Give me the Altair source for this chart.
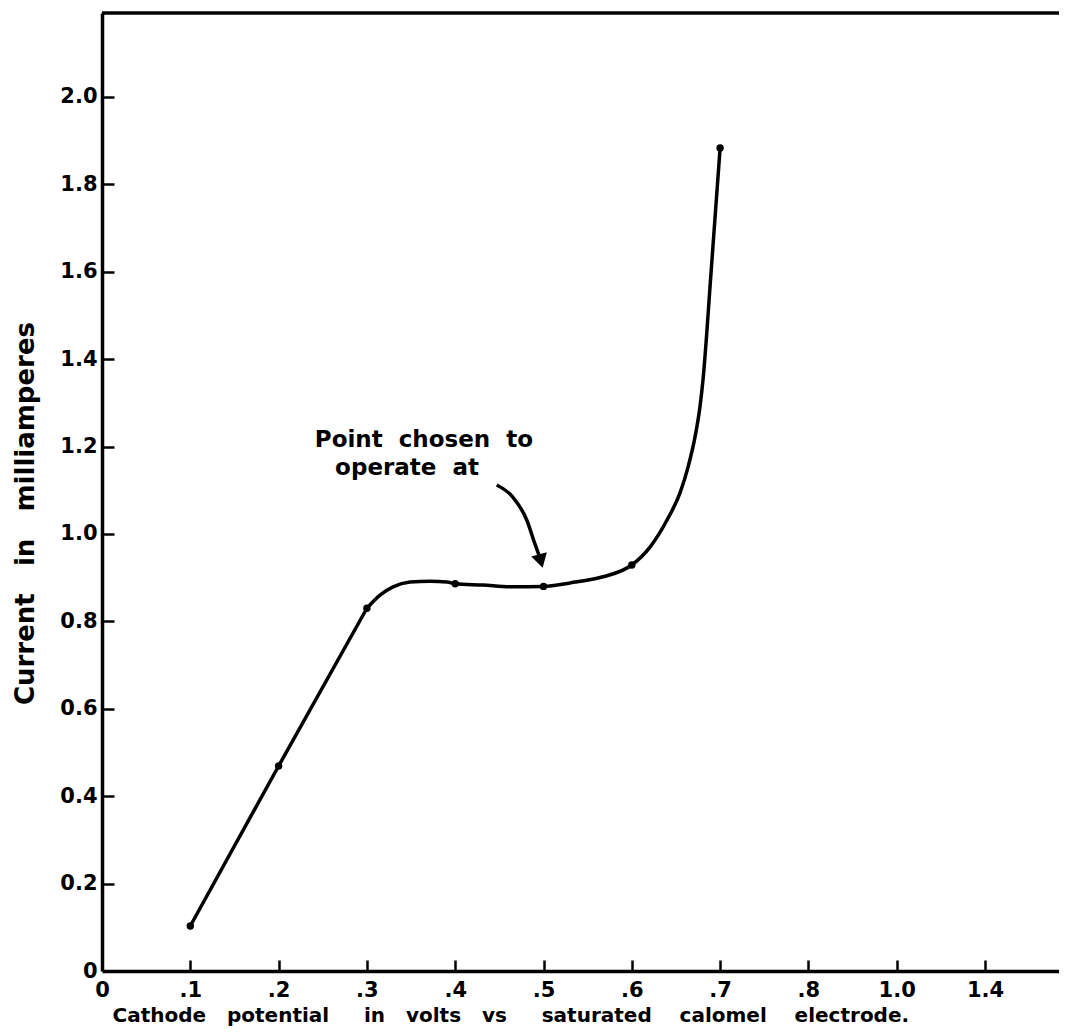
import altair as alt
import pandas as pd

# ---- data ----
# measured points (dots)
x_volts = [0.1, 0.2, 0.3, 0.4, 0.5, 0.6, 0.7]
current_ma = [0.103, 0.469, 0.830, 0.886, 0.880, 0.929, 1.883]

# drawn curve: straight part .1-.3, then the smooth part .3-.7
straight_x = [0.1, 0.2, 0.3]
straight_y = [0.103, 0.469, 0.830]
smooth_x = [0.3, 0.3148, 0.3296, 0.3488, 0.3715, 0.3907, 0.4, 0.4315, 0.462, 0.5, 0.530,
            0.5674, 0.6, 0.6206, 0.6399, 0.6546, 0.6637, 0.6716, 0.6772, 0.6806, 0.6897, 0.7]
smooth_y = [0.830, 0.860, 0.879, 0.890, 0.892, 0.890, 0.886, 0.883, 0.879, 0.880, 0.888,
            0.902, 0.929, 0.970, 1.032, 1.094, 1.153, 1.222, 1.291, 1.352, 1.597, 1.883]

x_label_values = [0.0, 0.1, 0.2, 0.3, 0.4, 0.5, 0.6, 0.7, 0.8, 0.9, 1.0]
x_label_text = ["0", ".1", ".2", ".3", ".4", ".5", ".6", ".7", ".8", "1.0", "1.4"]
x_tick_values = [0.1, 0.2, 0.3, 0.4, 0.5, 0.6, 0.7, 0.8, 0.9, 1.0]

y_label_values = [0.0, 0.2, 0.4, 0.6, 0.8, 1.0, 1.2, 1.4, 1.6, 1.8, 2.0]
y_label_text = ["0", "0.2", "0.4", "0.6", "0.8", "1.0", "1.2", "1.4", "1.6", "1.8", "2.0"]
y_tick_values = [0.2, 0.4, 0.6, 0.8, 1.0, 1.2, 1.4, 1.6, 1.8, 2.0]

NB = "\u00a0"  # non-breaking space keeps the wide hand-lettered word gaps
note_text = ["Point" + NB * 2 + "chosen" + NB * 2 + "to", "operate" + NB * 2 + "at"]
note_x = [0.241, 0.264]
note_y = [1.199, 1.135]

arrow_x = [0.447, 0.465, 0.481, 0.490, 0.496]
arrow_y = [1.112, 1.085, 1.032, 0.979, 0.945]
head_x = [0.497]
head_y = [0.938]

x_title = ("Cathode" + NB * 3 + "potential" + NB * 5 + "in" + NB * 3 + "volts" + NB * 3 + "vs"
           + NB * 5 + "saturated" + NB * 4 + "calomel" + NB * 4 + "electrode.")
y_title = "Current" + NB * 3 + "in" + NB * 3 + "milliamperes"

# ---- layout ----
W, H = 957, 958
FONT = "DejaVu Sans"

xscale = alt.Scale(domain=[0, 1.0838], nice=False, zero=False)
yscale = alt.Scale(domain=[0, 2.192], nice=False, zero=False)

curve = pd.DataFrame(
    {"v": straight_x + smooth_x,
     "c": straight_y + smooth_y,
     "seg": ["a"] * len(straight_x) + ["b"] * len(smooth_x)}
)
dots = pd.DataFrame({"v": x_volts, "c": current_ma})
notes = pd.DataFrame({"nx": note_x, "ny": note_y, "t": note_text})
arrow = pd.DataFrame({"ax": arrow_x, "ay": arrow_y})
head = pd.DataFrame({"hx": head_x, "hy": head_y})

x_expr = "[" + ",".join("'%s'" % s for s in x_label_text) + "][round(datum.value*10)]"
y_expr = "[" + ",".join("'%s'" % s for s in y_label_text) + "][round(datum.value*5)]"

line = alt.Chart(curve).mark_line(color="black", strokeWidth=3.5, interpolate="monotone").encode(
    x=alt.X("v:Q", scale=xscale, axis=alt.Axis(
        orient="bottom", values=x_label_values, labelExpr=x_expr, ticks=False, tickSize=0,
        domain=True, domainWidth=3.5, domainColor="black", grid=False,
        labelFont=FONT, labelFontSize=21, labelFontWeight="bold", labelColor="black", labelPadding=8,
        labelOverlap=False, labelFlush=False,
        title=x_title, titleFont=FONT, titleFontSize=20, titleFontWeight="bold", titleColor="black",
        titleAnchor="start", titleAlign="left", titleX=10, titleY=50, titleBaseline="alphabetic")),
    y=alt.Y("c:Q", scale=yscale, axis=alt.Axis(
        orient="left", values=y_label_values, labelExpr=y_expr, ticks=False, tickSize=0,
        domain=True, domainWidth=3.5, domainColor="black", grid=False,
        labelFont=FONT, labelFontSize=21, labelFontWeight="bold", labelColor="black", labelPadding=5,
        labelOverlap=False, labelFlush=False,
        title=y_title, titleFont=FONT, titleFontSize=26, titleFontWeight="bold", titleColor="black",
        titleAngle=270, titleAlign="center", titleBaseline="alphabetic", titleX=-69, titleY=500)),
    detail="seg:N",
)

points = alt.Chart(dots).mark_circle(color="black", size=55, opacity=1).encode(
    x=alt.X("v:Q", scale=xscale, axis=alt.Axis(
        orient="top", offset=-H, values=x_tick_values, labels=False, domain=False, grid=False,
        ticks=True, tickSize=11, tickWidth=2.5, tickColor="black", title=None)),
    y=alt.Y("c:Q", scale=yscale, axis=alt.Axis(
        orient="right", offset=-W, values=y_tick_values, labels=False, domain=False, grid=False,
        ticks=True, tickSize=12, tickWidth=2.5, tickColor="black", title=None)),
)

top_border = alt.Chart(pd.DataFrame({"k": [0]})).mark_rule(color="black", strokeWidth=3.5).encode(
    x=alt.value(0), x2=alt.value(W), y=alt.value(0)
)

note = alt.Chart(notes).mark_text(
    align="left", baseline="alphabetic", font=FONT, fontSize=23, fontWeight="bold", color="black"
).encode(
    x=alt.X("nx:Q", scale=xscale, axis=None),
    y=alt.Y("ny:Q", scale=yscale, axis=None),
    text="t:N",
)

arrow_line = alt.Chart(arrow).mark_line(color="black", strokeWidth=3.5, interpolate="monotone").encode(
    x=alt.X("ax:Q", scale=xscale, axis=None),
    y=alt.Y("ay:Q", scale=yscale, axis=None),
)

arrow_head = alt.Chart(head).mark_point(
    shape="triangle-down", filled=True, size=260, angle=345, color="black", opacity=1
).encode(
    x=alt.X("hx:Q", scale=xscale, axis=None),
    y=alt.Y("hy:Q", scale=yscale, axis=None),
)

chart = alt.layer(line, points, top_border, note, arrow_line, arrow_head).properties(
    width=W, height=H,
    padding={"left": 94, "top": 5, "right": 0, "bottom": 55},
    autosize=alt.AutoSizeParams(type="none"),
    background="white",
).configure_view(stroke=None)

chart.save("out.html", embed_options={"renderer": "svg", "actions": False})
